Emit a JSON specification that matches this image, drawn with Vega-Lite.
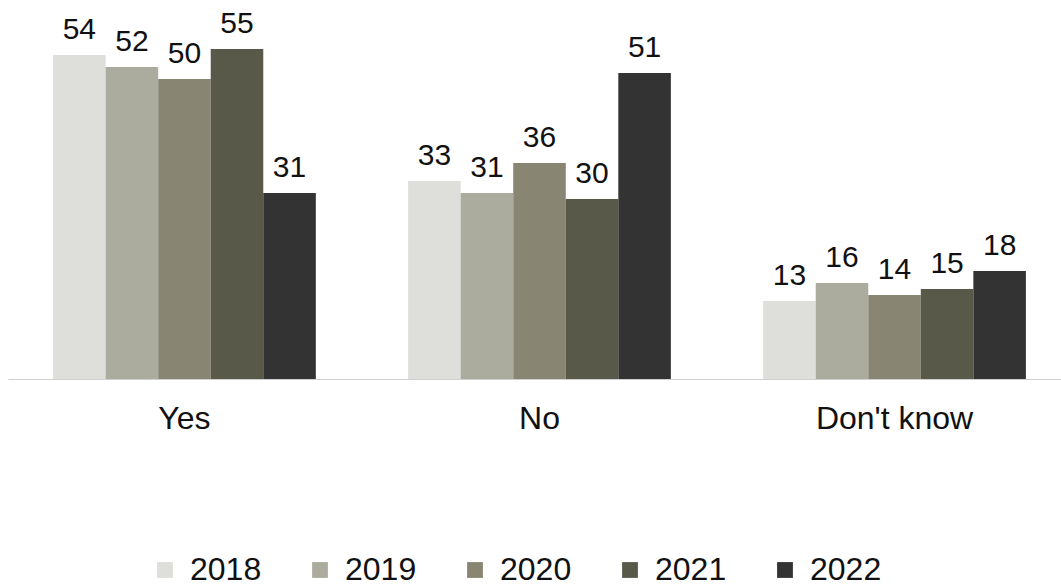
{
  "$schema": "https://vega.github.io/schema/vega-lite/v6.json",
  "width": 1053,
  "height": 360,
  "autosize": {"type": "none"},
  "padding": {"left": 8, "top": 19, "right": 0, "bottom": 208},
  "background": "white",
  "config": {"view": {"stroke": null}, "font": "Liberation Sans"},
  "data": {"values": [
    {"answer": "Yes", "year": "2018", "value": 54},
    {"answer": "Yes", "year": "2019", "value": 52},
    {"answer": "Yes", "year": "2020", "value": 50},
    {"answer": "Yes", "year": "2021", "value": 55},
    {"answer": "Yes", "year": "2022", "value": 31},
    {"answer": "No", "year": "2018", "value": 33},
    {"answer": "No", "year": "2019", "value": 31},
    {"answer": "No", "year": "2020", "value": 36},
    {"answer": "No", "year": "2021", "value": 30},
    {"answer": "No", "year": "2022", "value": 51},
    {"answer": "Don't know", "year": "2018", "value": 13},
    {"answer": "Don't know", "year": "2019", "value": 16},
    {"answer": "Don't know", "year": "2020", "value": 14},
    {"answer": "Don't know", "year": "2021", "value": 15},
    {"answer": "Don't know", "year": "2022", "value": 18}
  ]},
  "encoding": {
    "x": {"field": "answer", "type": "nominal", "sort": ["Yes", "No", "Don't know"],
      "scale": {"range": [0, 1063], "paddingInner": 0.26, "paddingOuter": 0.127},
      "axis": {"title": null, "labelAngle": 0, "ticks": false, "labelFontSize": 32, "labelColor": "#111111", "labelPadding": 24, "domainColor": "#d0d0d0", "domainWidth": 1.2}},
    "xOffset": {"field": "year", "type": "nominal", "scale": {"paddingInner": 0, "paddingOuter": 0}},
    "y": {"field": "value", "type": "quantitative", "scale": {"domain": [0, 60]}, "axis": null}
  },
  "layer": [
    {"mark": {"type": "bar"},
     "encoding": {
       "color": {"field": "year", "type": "nominal",
         "scale": {"domain": ["2018", "2019", "2020", "2021", "2022"], "range": ["#dededa", "#acac9e", "#888672", "#595949", "#333333"]},
         "legend": {"title": null, "orient": "none", "direction": "horizontal", "legendX": 141, "legendY": 535,
           "symbolType": "square", "symbolSize": 250, "symbolStrokeWidth": 0, "labelFontSize": 32, "labelColor": "#111111", "columnPadding": 42, "labelOffset": 9}}
     }},
    {"mark": {"type": "text", "baseline": "alphabetic", "dy": -16, "fontSize": 30, "color": "#111111"},
     "encoding": {"text": {"field": "value", "type": "quantitative"}}}
  ]
}
